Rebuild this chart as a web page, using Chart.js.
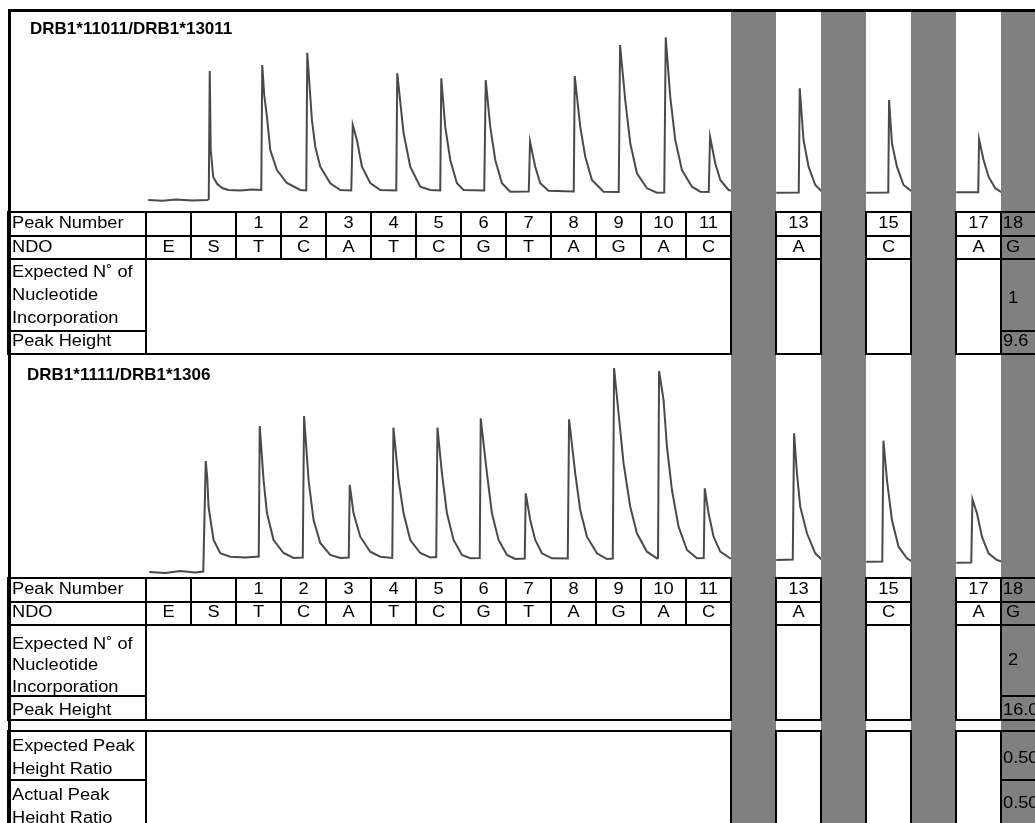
<!DOCTYPE html>
<html>
<head>
<meta charset="utf-8">
<title>Pyrosequencing traces DRB1</title>
<script src="https://cdn.jsdelivr.net/npm/chart.js@4/dist/chart.umd.min.js"></script>
<style>
  html, body { margin: 0; padding: 0; background: #fff; overflow: hidden; }
  #wrap { position: relative; width: 1035px; height: 823px; }
</style>
</head>
<body>
<div id="wrap"><canvas id="pyro" width="1035" height="823"></canvas></div>
<script>
// ---- data ---------------------------------------------------------------
// Dispensation columns: index 0 = E, 1 = S, then peak n sits in column n + 1.
const peakNumbers  = ['', '', '1', '2', '3', '4', '5', '6', '7', '8', '9', '10', '11', '12', '13', '14', '15', '16', '17', '18'];
const dispensation = ['E', 'S', 'T', 'C', 'A', 'T', 'C', 'G', 'T', 'A', 'G', 'A', 'C', '', 'A', '', 'C', '', 'A', 'G'];
const maskedPeaks  = ['12', '14', '16', '18'];
const sampleNames  = ['DRB1*11011/DRB1*13011', 'DRB1*1111/DRB1*1306'];

// values shown for peak 18, per sample
const expectedIncorporation = ['1', '2'];
const peakHeight18          = ['9.6', '16.0'];
const expectedRatio         = ['0.50'];
const actualRatio           = ['0.50'];

// Light signal: [dispensation position, signal above baseline]
const traceSample1 = [
  [0.044, -1.0], [0.356, -1.08], [0.667, -0.94], [1.022, -1.06], [1.356, -1.0],
  [1.389, -0.9], [1.411, 11.9], [1.433, 4.0], [1.489, 1.3], [1.578, 0.6], [1.689, 0.2], [1.822, 0.0],
  [2.089, -0.05], [2.356, 0.05], [2.556, 0.0],
  [2.578, 12.5], [2.622, 9.5], [2.682, 7.33], [2.756, 4.0], [2.904, 2.0], [3.127, 0.7], [3.422, 0.0], [3.556, -0.05],
  [3.578, 13.73], [3.682, 7.0], [3.756, 4.33], [3.867, 2.33], [4.089, 0.67], [4.311, 0.0], [4.556, -0.05],
  [4.589, 6.5], [4.682, 5.0], [4.793, 2.33], [4.978, 0.7], [5.2, 0.0], [5.556, -0.05],
  [5.578, 11.67], [5.718, 5.7], [5.867, 2.33], [6.089, 0.33], [6.311, 0.0], [6.533, -0.05],
  [6.556, 11.17], [6.644, 6.33], [6.756, 3.0], [6.904, 0.67], [7.051, 0.0], [7.511, -0.05],
  [7.544, 11.0], [7.644, 6.33], [7.756, 3.0], [7.904, 0.67], [8.089, -0.17], [8.5, -0.15],
  [8.529, 4.83], [8.644, 2.33], [8.756, 0.67], [8.94, -0.07], [9.5, -0.15],
  [9.522, 11.4], [9.644, 6.33], [9.756, 3.33], [9.904, 1.0], [10.162, -0.17], [10.5, -0.2],
  [10.529, 14.5], [10.644, 9.0], [10.756, 4.67], [10.904, 1.67], [11.127, 0.17], [11.349, -0.27], [11.511, -0.25],
  [11.544, 15.27], [11.644, 9.33], [11.756, 5.0], [11.904, 2.0], [12.127, 0.33], [12.311, -0.17], [12.5, -0.2],
  [12.529, 5.33], [12.644, 2.67], [12.756, 1.0], [12.94, 0.0], [13.044, -0.1],
  [13.5, null],
  [14.0, -0.27], [14.5, -0.25],
  [14.522, 10.17], [14.607, 5.0], [14.718, 2.33], [14.867, 0.5], [15.022, -0.17],
  [15.5, null],
  [16.0, -0.27], [16.489, -0.25],
  [16.507, 9.0], [16.571, 4.67], [16.682, 2.33], [16.829, 0.5], [17.022, -0.17],
  [17.5, null],
  [18.0, -0.23], [18.489, -0.23],
  [18.507, 5.07], [18.607, 3.0], [18.718, 1.33], [18.867, 0.17], [19.022, -0.27]
];

const traceSample2 = [
  [0.067, -1.5], [0.422, -1.6], [0.756, -1.4], [1.089, -1.55], [1.267, -1.45],
  [1.322, 9.6], [1.356, 7.9], [1.384, 5.03], [1.496, 1.7], [1.644, 0.37], [1.867, 0.03], [2.2, -0.05], [2.5, 0.05],
  [2.522, 13.1], [2.607, 7.7], [2.682, 4.4], [2.829, 1.7], [3.051, 0.4], [3.273, -0.1], [3.478, -0.05],
  [3.507, 14.1], [3.607, 7.7], [3.718, 3.7], [3.867, 1.4], [4.089, 0.2], [4.311, -0.1], [4.5, -0.05],
  [4.522, 7.2], [4.607, 4.37], [4.756, 2.03], [4.978, 0.53], [5.2, 0.03], [5.467, -0.1],
  [5.493, 12.93], [5.607, 7.7], [5.718, 4.37], [5.867, 1.7], [6.089, 0.4], [6.311, -0.05], [6.444, 0.0],
  [6.471, 12.93], [6.571, 8.37], [6.682, 4.37], [6.829, 1.7], [7.016, 0.2], [7.2, -0.13], [7.411, -0.1],
  [7.433, 13.87], [7.571, 8.37], [7.682, 4.37], [7.829, 1.7], [8.016, 0.2], [8.2, -0.2], [8.411, -0.15],
  [8.433, 6.37], [8.533, 3.7], [8.644, 1.7], [8.793, 0.37], [9.016, -0.13], [9.367, -0.15],
  [9.396, 13.77], [9.533, 8.37], [9.644, 4.7], [9.793, 2.03], [10.016, 0.37], [10.238, -0.2], [10.367, -0.15],
  [10.396, 18.9], [10.533, 12.7], [10.607, 9.37], [10.756, 5.03], [10.904, 2.37], [11.127, 0.53], [11.349, -0.13], [11.373, -0.1],
  [11.396, 18.6], [11.496, 15.7], [11.571, 11.03], [11.682, 6.7], [11.829, 3.03], [12.016, 0.7], [12.238, -0.13], [12.389, -0.1],
  [12.411, 6.87], [12.496, 4.37], [12.607, 2.03], [12.756, 0.53], [12.978, -0.13], [13.044, -0.15],
  [13.5, null],
  [14.0, -0.3], [14.367, -0.25],
  [14.396, 12.37], [14.46, 8.37], [14.533, 5.03], [14.682, 2.37], [14.867, 0.37], [15.022, -0.3],
  [15.5, null],
  [16.0, -0.47], [16.356, -0.45],
  [16.382, 11.63], [16.46, 7.7], [16.571, 3.7], [16.718, 1.03], [16.904, -0.13], [17.022, -0.47],
  [17.5, null],
  [18.0, -0.57], [18.333, -0.55],
  [18.36, 5.77], [18.46, 4.37], [18.571, 2.03], [18.718, 0.37], [18.904, -0.3], [19.022, -0.47]
];

// ---- layout ---------------------------------------------------------------
const FRAME_LEFT = 8, FRAME_TOP = 9, FRAME_W = 3;
const LABEL_X = 12;
const LABEL_FONT = '16px "Liberation Sans", Arial, sans-serif';
const TITLE_FONT = 'bold 17px "Liberation Sans", Arial, sans-serif';
const TEXT_STRETCH = 1.14;

const panels = [
  {
    title: { x: 30, y: 34 },
    rows: { pn: [212, 236], ndo: [236, 259], exp: [259, 331], ph: [331, 354] },
    labels: [['Peak Number', 228], ['NDO', 251.5], ['Expected N\u02DA of', 277], ['Nucleotide', 300], ['Incorporation', 323], ['Peak Height', 346]],
    valY: { pn: 228, ndo: 251.5, exp: 303, ph: 346 },
    ratio: null
  },
  {
    title: { x: 27, y: 380 },
    rows: { pn: [578, 602], ndo: [602, 625], exp: [625, 696], ph: [696, 720] },
    labels: [['Peak Number', 594], ['NDO', 617], ['Expected N\u02DA of', 648.5], ['Nucleotide', 670], ['Incorporation', 692], ['Peak Height', 715]],
    valY: { pn: 594, ndo: 617, exp: 665, ph: 715 },
    ratio: {
      rows: [[731, 780], [780, 834]],
      labels: [['Expected Peak', 751], ['Height Ratio', 774], ['Actual Peak', 800], ['Height Ratio', 823]],
      valY: [763, 808]
    }
  }
];

function drawText(ctx, s, x, y, align, font, stretch) {
  ctx.save();
  ctx.font = font;
  ctx.textAlign = align;
  ctx.textBaseline = 'alphabetic';
  ctx.translate(x, y);
  ctx.scale(stretch, 1);
  ctx.fillText(s, 0, 0);
  ctx.restore();
}

function box(ctx, x0, x1, y0, y1) {
  ctx.strokeRect(x0, y0, x1 - x0, y1 - y0);
}

const pyroTable = {
  id: 'pyroTable',
  afterDatasetsDraw(chart) {
    const { ctx, scales: { x } } = chart;
    ctx.save();
    ctx.fillStyle = '#808080';
    peakNumbers.forEach((p, i) => {
      if (!maskedPeaks.includes(p)) return;
      const l = Math.round(x.getPixelForValue(i));
      const r = Math.round(x.getPixelForValue(i + 1));
      ctx.fillRect(l, FRAME_TOP + FRAME_W, r - l, chart.height);
    });
    ctx.restore();
  },
  afterDraw(chart) {
    const { ctx, scales: { x } } = chart;
    const col = i => Math.round(x.getPixelForValue(i));
    const lastIdx = peakNumbers.length - 1;             // peak 18, shaded but annotated
    const openCols = peakNumbers.map((p, i) => i).filter(i => !maskedPeaks.includes(peakNumbers[i]));
    // contiguous runs of open columns (merged value cells)
    const runs = [];
    openCols.forEach(i => {
      const last = runs[runs.length - 1];
      if (last && last[1] === i - 1) last[1] = i; else runs.push([i, i]);
    });
    const labelRight = col(0);

    ctx.save();
    ctx.strokeStyle = '#000';
    ctx.fillStyle = '#000';
    ctx.lineWidth = 2;

    panels.forEach((pnl, k) => {
      const R = pnl.rows;
      drawText(ctx, sampleNames[k], pnl.title.x, pnl.title.y, 'left', TITLE_FONT, 1);

      // label column
      ['pn', 'ndo', 'exp', 'ph'].forEach(r => box(ctx, FRAME_LEFT, labelRight, R[r][0], R[r][1]));
      pnl.labels.forEach(([s, y]) => drawText(ctx, s, LABEL_X, y, 'left', LABEL_FONT, TEXT_STRETCH));

      // peak number / dispensation cells
      [...openCols, lastIdx].forEach(i => {
        box(ctx, col(i), col(i + 1), R.pn[0], R.pn[1]);
        box(ctx, col(i), col(i + 1), R.ndo[0], R.ndo[1]);
      });
      openCols.forEach(i => {
        const cx = (col(i) + col(i + 1)) / 2;
        if (peakNumbers[i]) drawText(ctx, peakNumbers[i], cx, pnl.valY.pn, 'center', LABEL_FONT, TEXT_STRETCH);
        if (dispensation[i]) drawText(ctx, dispensation[i], cx, pnl.valY.ndo, 'center', LABEL_FONT, TEXT_STRETCH);
      });

      // merged value cells for incorporation / peak height
      runs.forEach(([a, b]) => box(ctx, col(a), col(b + 1), R.exp[0], R.ph[1]));
      box(ctx, col(lastIdx), col(lastIdx + 1), R.exp[0], R.exp[1]);
      box(ctx, col(lastIdx), col(lastIdx + 1), R.ph[0], R.ph[1]);

      const x18 = col(lastIdx);
      drawText(ctx, peakNumbers[lastIdx], x18 + 12, pnl.valY.pn, 'center', LABEL_FONT, TEXT_STRETCH);
      drawText(ctx, dispensation[lastIdx], x18 + 12, pnl.valY.ndo, 'center', LABEL_FONT, TEXT_STRETCH);
      drawText(ctx, expectedIncorporation[k], x18 + 12, pnl.valY.exp, 'center', LABEL_FONT, TEXT_STRETCH);
      drawText(ctx, peakHeight18[k], x18 + 2, pnl.valY.ph, 'left', LABEL_FONT, TEXT_STRETCH);

      if (pnl.ratio) {
        const rr = pnl.ratio.rows;
        rr.forEach(([y0, y1]) => box(ctx, FRAME_LEFT, labelRight, y0, y1));
        pnl.ratio.labels.forEach(([s, y]) => drawText(ctx, s, LABEL_X, y, 'left', LABEL_FONT, TEXT_STRETCH));
        runs.forEach(([a, b]) => box(ctx, col(a), col(b + 1), rr[0][0], rr[1][1]));
        rr.forEach(([y0, y1]) => box(ctx, x18, col(lastIdx + 1), y0, y1));
        drawText(ctx, expectedRatio[0], x18 + 2, pnl.ratio.valY[0], 'left', LABEL_FONT, TEXT_STRETCH);
        drawText(ctx, actualRatio[0], x18 + 2, pnl.ratio.valY[1], 'left', LABEL_FONT, TEXT_STRETCH);
      }
    });

    // outer frame (left and top edges)
    ctx.fillRect(FRAME_LEFT, FRAME_TOP, FRAME_W, chart.height);
    ctx.fillRect(FRAME_LEFT, FRAME_TOP, chart.width, FRAME_W);
    ctx.restore();
  }
};

const toPoints = arr => arr.map(([x, y]) => ({ x, y }));
const traceStyle = {
  showLine: true, borderColor: '#4a4a4a', borderWidth: 2,
  pointRadius: 0, tension: 0, spanGaps: false, fill: false
};

new Chart(document.getElementById('pyro'), {
  type: 'scatter',
  data: {
    datasets: [
      { ...traceStyle, label: sampleNames[0], data: toPoints(traceSample1), yAxisID: 'y1' },
      { ...traceStyle, label: sampleNames[1], data: toPoints(traceSample2), yAxisID: 'y2' }
    ]
  },
  options: {
    responsive: false,
    animation: false,
    devicePixelRatio: 1,
    events: [],
    layout: { padding: 0 },
    plugins: { legend: { display: false }, tooltip: { enabled: false }, title: { display: false } },
    scales: {
      x:  { type: 'linear', min: -3.25, max: 19.75, display: false },
      y1: { type: 'linear', min: -63.3, max: 19.0, display: false },
      y2: { type: 'linear', min: -26.6, max: 55.7, display: false }
    }
  },
  plugins: [pyroTable]
});
</script>
</body>
</html>
